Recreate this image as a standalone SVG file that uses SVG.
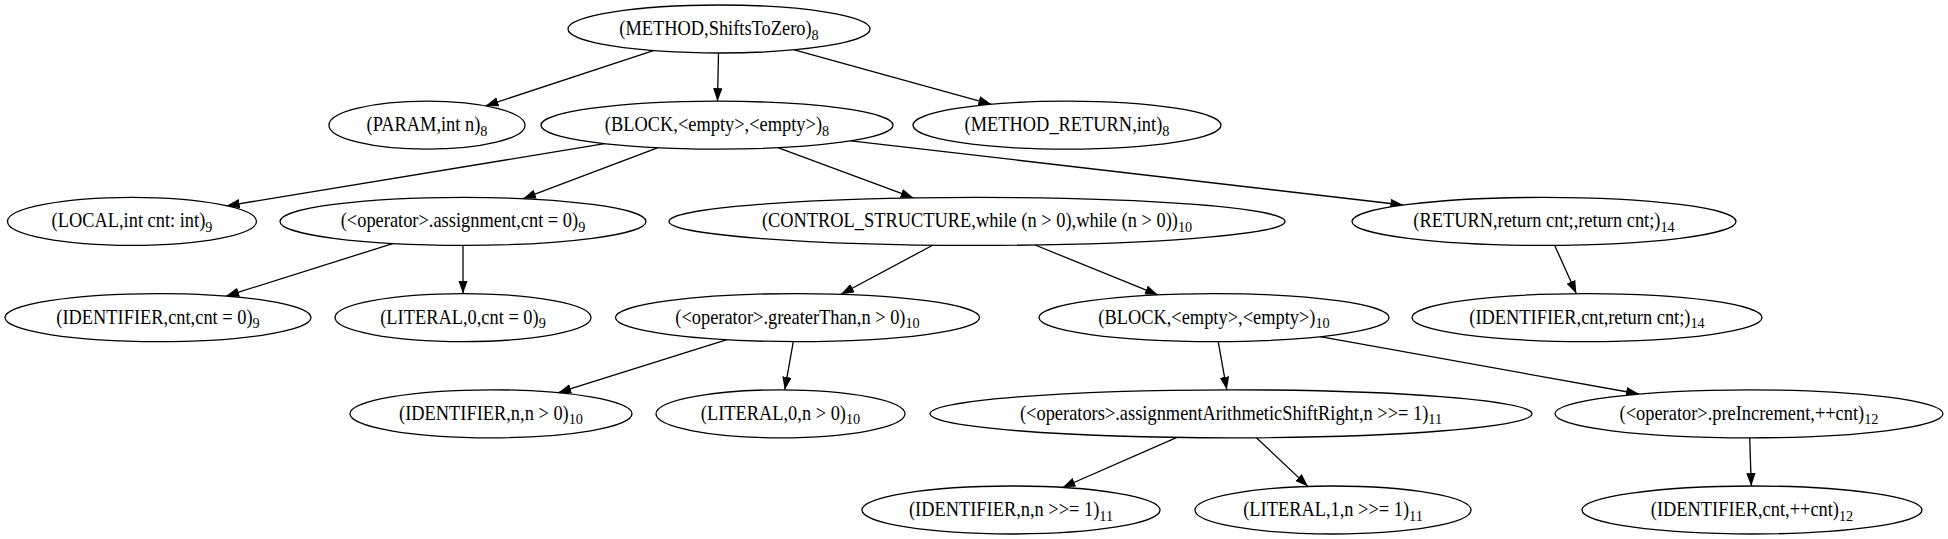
<svg xmlns="http://www.w3.org/2000/svg" width="1948" height="539" viewBox="0 0 1948 539">
<defs>
<style>
.n ellipse{fill:#fff;stroke:#000;stroke-width:1.3}
.n text{font-family:"Liberation Serif","Times New Roman",serif;font-size:20px;text-anchor:middle;fill:#000}
.n tspan{font-size:15.5px}
#edges line{stroke:#000;stroke-width:1.3;marker-end:url(#arr)}
</style>
<marker id="arr" markerWidth="14" markerHeight="10" refX="13" refY="4.7" orient="auto" markerUnits="userSpaceOnUse"><path d="M0,0 L13,4.7 L0,9.4 z" fill="#000"/></marker>
</defs>
<rect width="1948" height="539" fill="#fff"/>
<g id="edges">
<line x1="653.4" y1="50.6" x2="485.5" y2="105.9"/>
<line x1="718.5" y1="53" x2="717.5" y2="101.2"/>
<line x1="794.3" y1="49.8" x2="991.4" y2="104.3"/>
<line x1="604.7" y1="143.7" x2="226.7" y2="205.8"/>
<line x1="657.4" y1="147.8" x2="523" y2="198.7"/>
<line x1="777.9" y1="147.7" x2="913.5" y2="197.9"/>
<line x1="850.9" y1="140.8" x2="1403.4" y2="205"/>
<line x1="392.7" y1="243.6" x2="226.1" y2="296.1"/>
<line x1="463" y1="245.4" x2="463" y2="293.6"/>
<line x1="932.7" y1="245.2" x2="841" y2="294.3"/>
<line x1="1035.1" y1="245" x2="1158" y2="294.9"/>
<line x1="1554.7" y1="245.4" x2="1576.3" y2="293.6"/>
<line x1="727" y1="339.7" x2="558.2" y2="392.7"/>
<line x1="793.3" y1="341.6" x2="784.7" y2="389.8"/>
<line x1="1218.2" y1="341.6" x2="1226.8" y2="389.8"/>
<line x1="1320.1" y1="336.7" x2="1639.1" y2="394"/>
<line x1="1177" y1="437.4" x2="1062.5" y2="487.5"/>
<line x1="1256.4" y1="437.7" x2="1308" y2="486.4"/>
<line x1="1749.7" y1="437.8" x2="1751.3" y2="486"/>
</g>
<g id="n_method" class="n"><ellipse cx="719" cy="29" rx="151" ry="24"/><text transform="translate(719 35) scale(0.92 1)">(METHOD,ShiftsToZero)<tspan dy="4.5">8</tspan></text></g>
<g id="n_param" class="n"><ellipse cx="427" cy="125.2" rx="98" ry="24"/><text transform="translate(427 131.2) scale(0.92 1)">(PARAM,int n)<tspan dy="4.5">8</tspan></text></g>
<g id="n_block8" class="n"><ellipse cx="717" cy="125.2" rx="176" ry="24"/><text transform="translate(717 131.2) scale(0.92 1)">(BLOCK,&lt;empty&gt;,&lt;empty&gt;)<tspan dy="4.5">8</tspan></text></g>
<g id="n_method_return" class="n"><ellipse cx="1067" cy="125.2" rx="154" ry="24"/><text transform="translate(1067 131.2) scale(0.92 1)">(METHOD_RETURN,int)<tspan dy="4.5">8</tspan></text></g>
<g id="n_local" class="n"><ellipse cx="132" cy="221.4" rx="124.5" ry="24"/><text transform="translate(132 227.4) scale(0.92 1)">(LOCAL,int cnt: int)<tspan dy="4.5">9</tspan></text></g>
<g id="n_assign" class="n"><ellipse cx="463" cy="221.4" rx="183" ry="24"/><text transform="translate(463 227.4) scale(0.92 1)">(&lt;operator&gt;.assignment,cnt = 0)<tspan dy="4.5">9</tspan></text></g>
<g id="n_control" class="n"><ellipse cx="977" cy="221.4" rx="308" ry="24"/><text transform="translate(977 227.4) scale(0.92 1)">(CONTROL_STRUCTURE,while (n &gt; 0),while (n &gt; 0))<tspan dy="4.5">10</tspan></text></g>
<g id="n_return" class="n"><ellipse cx="1544" cy="221.4" rx="192" ry="24"/><text transform="translate(1544 227.4) scale(0.92 1)">(RETURN,return cnt;,return cnt;)<tspan dy="4.5">14</tspan></text></g>
<g id="n_id_cnt9" class="n"><ellipse cx="158" cy="317.6" rx="153" ry="24"/><text transform="translate(158 323.6) scale(0.92 1)">(IDENTIFIER,cnt,cnt = 0)<tspan dy="4.5">9</tspan></text></g>
<g id="n_lit0_9" class="n"><ellipse cx="463" cy="317.6" rx="128" ry="24"/><text transform="translate(463 323.6) scale(0.92 1)">(LITERAL,0,cnt = 0)<tspan dy="4.5">9</tspan></text></g>
<g id="n_greater" class="n"><ellipse cx="797.5" cy="317.6" rx="182" ry="24"/><text transform="translate(797.5 323.6) scale(0.92 1)">(&lt;operator&gt;.greaterThan,n &gt; 0)<tspan dy="4.5">10</tspan></text></g>
<g id="n_block10" class="n"><ellipse cx="1214" cy="317.6" rx="175" ry="24"/><text transform="translate(1214 323.6) scale(0.92 1)">(BLOCK,&lt;empty&gt;,&lt;empty&gt;)<tspan dy="4.5">10</tspan></text></g>
<g id="n_id_cnt14" class="n"><ellipse cx="1587" cy="317.6" rx="175" ry="24"/><text transform="translate(1587 323.6) scale(0.92 1)">(IDENTIFIER,cnt,return cnt;)<tspan dy="4.5">14</tspan></text></g>
<g id="n_id_n10" class="n"><ellipse cx="491" cy="413.8" rx="141" ry="24"/><text transform="translate(491 419.8) scale(0.92 1)">(IDENTIFIER,n,n &gt; 0)<tspan dy="4.5">10</tspan></text></g>
<g id="n_lit0_10" class="n"><ellipse cx="780.5" cy="413.8" rx="124.5" ry="24"/><text transform="translate(780.5 419.8) scale(0.92 1)">(LITERAL,0,n &gt; 0)<tspan dy="4.5">10</tspan></text></g>
<g id="n_shift" class="n"><ellipse cx="1231" cy="413.8" rx="301" ry="24"/><text transform="translate(1231 419.8) scale(0.92 1)">(&lt;operators&gt;.assignmentArithmeticShiftRight,n &gt;&gt;= 1)<tspan dy="4.5">11</tspan></text></g>
<g id="n_preinc" class="n"><ellipse cx="1749" cy="413.8" rx="194" ry="24"/><text transform="translate(1749 419.8) scale(0.92 1)">(&lt;operator&gt;.preIncrement,++cnt)<tspan dy="4.5">12</tspan></text></g>
<g id="n_id_n11" class="n"><ellipse cx="1011" cy="510" rx="149" ry="24"/><text transform="translate(1011 516) scale(0.92 1)">(IDENTIFIER,n,n &gt;&gt;= 1)<tspan dy="4.5">11</tspan></text></g>
<g id="n_lit1_11" class="n"><ellipse cx="1333" cy="510" rx="138" ry="24"/><text transform="translate(1333 516) scale(0.92 1)">(LITERAL,1,n &gt;&gt;= 1)<tspan dy="4.5">11</tspan></text></g>
<g id="n_id_cnt12" class="n"><ellipse cx="1752" cy="510" rx="170" ry="24"/><text transform="translate(1752 516) scale(0.92 1)">(IDENTIFIER,cnt,++cnt)<tspan dy="4.5">12</tspan></text></g>
</svg>
